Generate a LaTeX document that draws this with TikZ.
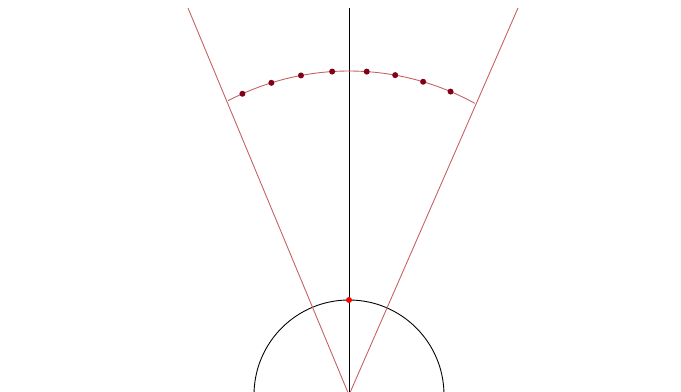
\documentclass[tikz,border=0pt]{standalone}
\usepackage{xcolor}
\usepackage{tikz}
\usetikzlibrary{calc}

\definecolor{conered}{RGB}{196,96,96}
\definecolor{dotred}{RGB}{128,0,24}

\begin{document}
\begin{tikzpicture}[x=0.02cm, y=0.02cm, line width=0.5pt,
        cone/.style={draw=conered},
        sample/.style={circle, fill=dotred, inner sep=0pt, minimum size=0.12cm}]
        \useasboundingbox (0,0) rectangle (681,392);
        \clip (0,0) rectangle (681,392);

        \coordinate (o) at (349,-3);
        \coordinate (top) at (349,384);
        \coordinate (lend) at (188,384);
        \coordinate (rend) at (518,384);
        \coordinate (c) at (349,60);

        \draw (o) circle (95);
        \draw (o) -- (top);
        \draw[cone] (o) -- (lend);
        \draw[cone] (o) -- (rend);
        \draw[cone] ($(c)+(117.6:261)$) arc (117.6:61.2:261);

        \foreach \a [count=\i] in {114.1,107.3,100.6,93.7,86.1,79.8,73.5,67.1}
            \node[sample] (s\i) at ($(c)+(\a:261)$) {};

        \node[circle, fill=red, inner sep=0pt, minimum size=0.12cm] (peak) at (349,92) {};
\end{tikzpicture}
\end{document}
